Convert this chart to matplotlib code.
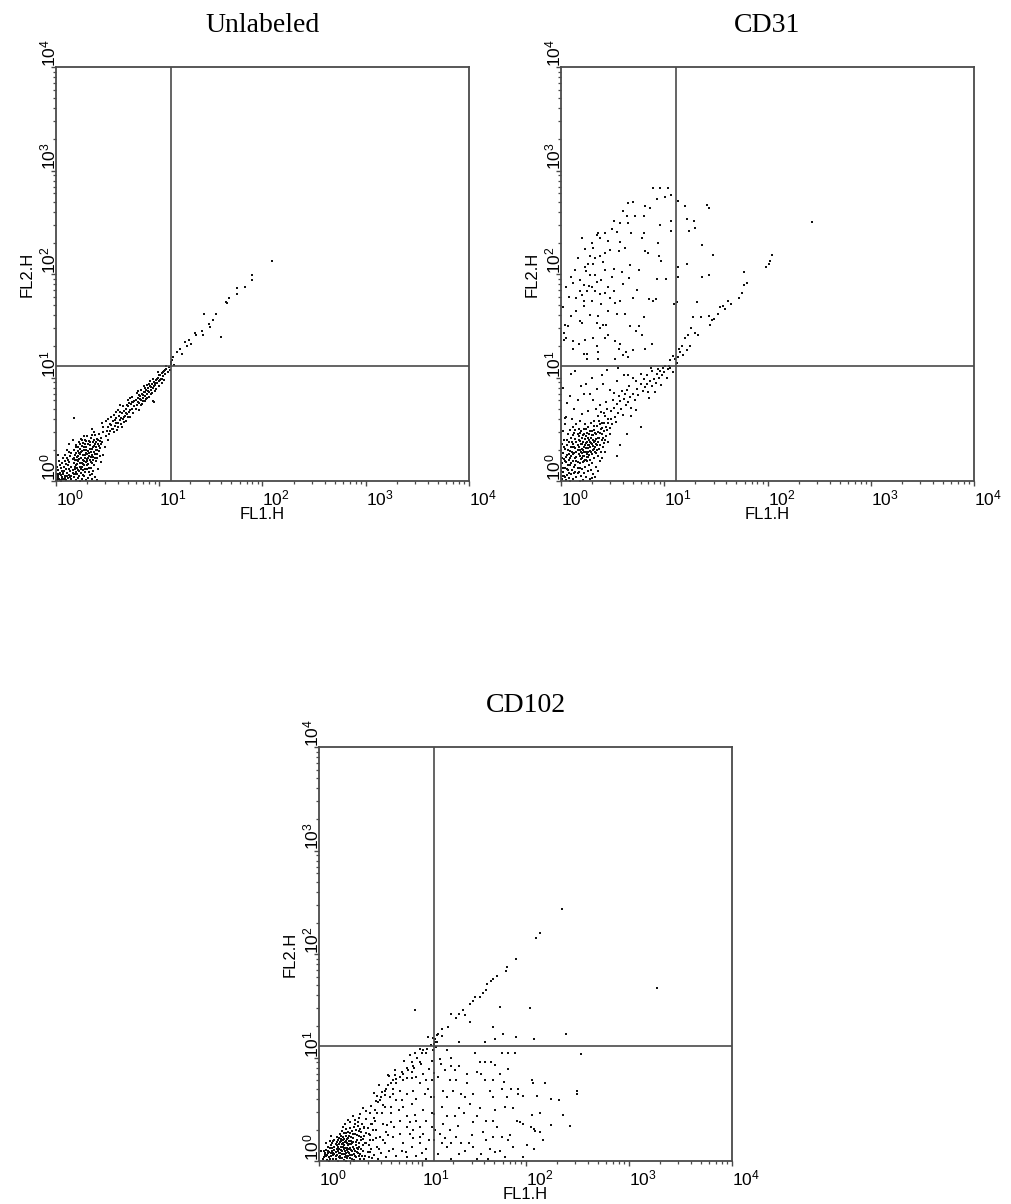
import numpy as np
import matplotlib
matplotlib.use("Agg")
import matplotlib.pyplot as plt
from matplotlib.ticker import LogLocator, NullFormatter

plt.rcParams['font.family'] = ['Liberation Sans', 'DejaVu Sans']
plt.rcParams['mathtext.fontset'] = 'custom'
plt.rcParams['mathtext.rm'] = 'Liberation Sans'
plt.rcParams['mathtext.it'] = 'Liberation Sans'

# all events are given in decades (log10 of the channel value)
gate_x = 1.11
gate_y = 1.11

titles = ["Unlabeled", "CD31", "CD102"]
tick_labels = [r"$\mathregular{10^{0}}$", r"$\mathregular{10^{1}}$", r"$\mathregular{10^{2}}$",
               r"$\mathregular{10^{3}}$", r"$\mathregular{10^{4}}$"]

unlabeled_pts = [
    (0.01,0.01),(0.03,0.02),(0.05,0.00),(0.02,0.05),(0.06,0.04),(0.08,0.02),(0.10,0.01),(0.12,0.03),(0.04,0.08),(0.07,0.07),
    (0.09,0.05),(0.11,0.08),(0.13,0.06),(0.15,0.02),(0.17,0.04),(0.19,0.01),(0.21,0.03),(0.23,0.00),(0.25,0.02),(0.27,0.05),
    (0.29,0.01),(0.31,0.03),(0.33,0.06),(0.35,0.02),(0.38,0.04),(0.40,0.01),(0.02,0.11),(0.05,0.13),(0.08,0.10),(0.10,0.12),
    (0.12,0.15),(0.14,0.10),(0.16,0.08),(0.18,0.12),(0.20,0.07),(0.22,0.10),(0.24,0.08),(0.26,0.11),(0.28,0.09),(0.30,0.12),
    (0.32,0.09),(0.34,0.13),(0.36,0.10),(0.06,0.17),(0.09,0.19),(0.11,0.22),(0.13,0.18),(0.15,0.14),(0.17,0.17),(0.19,0.15),
    (0.21,0.19),(0.23,0.14),(0.25,0.17),(0.27,0.15),(0.29,0.18),(0.31,0.16),(0.33,0.20),(0.35,0.17),(0.37,0.15),(0.39,0.19),
    (0.14,0.24),(0.16,0.21),(0.18,0.25),(0.20,0.23),(0.22,0.27),(0.24,0.22),(0.26,0.25),(0.28,0.22),(0.30,0.26),(0.32,0.24),
    (0.34,0.28),(0.36,0.23),(0.38,0.26),(0.40,0.22),(0.42,0.29),(0.17,0.30),(0.19,0.33),(0.21,0.29),(0.23,0.31),(0.25,0.34),
    (0.27,0.30),(0.29,0.33),(0.31,0.29),(0.33,0.35),(0.35,0.31),(0.37,0.34),(0.39,0.30),(0.41,0.36),(0.43,0.32),(0.45,0.38),
    (0.22,0.38),(0.24,0.41),(0.26,0.37),(0.28,0.40),(0.30,0.43),(0.32,0.39),(0.34,0.42),(0.36,0.38),(0.38,0.44),(0.40,0.41),
    (0.42,0.45),(0.44,0.42),(0.46,0.47),(0.48,0.43),(0.13,0.28),(0.11,0.30),(0.09,0.25),(0.07,0.22),(0.04,0.15),(0.03,0.19),
    (0.20,0.16),(0.24,0.28),(0.28,0.36),(0.18,0.20),(0.26,0.20),(0.30,0.21),(0.15,0.05),(0.18,0.07),(0.21,0.11),(0.26,0.06),
    (0.35,0.07),(0.41,0.12),(0.44,0.18),(0.46,0.25),(0.47,0.33),(0.43,0.24),(0.01,0.14),(0.01,0.07),(0.02,0.25),(0.13,0.36),
    (0.16,0.40),(0.35,0.50),(0.50,0.40),(0.52,0.48),(0.37,0.47),
    (0.02,0.03),(0.04,0.01),(0.06,0.02),(0.03,0.07),(0.05,0.06),(0.07,0.09),(0.09,0.03),(0.11,0.05),(0.13,0.12),(0.14,0.04),
    (0.16,0.11),(0.17,0.07),(0.19,0.09),(0.20,0.13),(0.22,0.05),(0.23,0.17),(0.24,0.12),(0.25,0.14),(0.27,0.19),(0.28,0.12),
    (0.29,0.27),(0.30,0.15),(0.31,0.22),(0.32,0.27),(0.33,0.31),(0.34,0.18),(0.35,0.25),(0.36,0.33),(0.37,0.28),(0.38,0.36),
    (0.39,0.33),(0.40,0.26),(0.41,0.40),(0.42,0.34),(0.43,0.39),(0.44,0.36),(0.15,0.27),(0.17,0.22),(0.19,0.27),(0.21,0.24),
    (0.23,0.26),(0.25,0.29),(0.27,0.33),(0.29,0.30),(0.31,0.36),(0.33,0.38),(0.35,0.44),(0.12,0.20),(0.10,0.16),(0.08,0.14),
    (0.06,0.10),(0.18,0.14),(0.20,0.20),(0.22,0.21),(0.26,0.16),(0.28,0.25),(0.30,0.19),(0.32,0.13),(0.34,0.23),(0.36,0.20),
    (0.38,0.22),(0.40,0.30),(0.19,0.35),(0.21,0.33),(0.23,0.36),(0.25,0.40),(0.27,0.43),(0.29,0.39),(0.37,0.40),(0.39,0.38),
    (0.50,0.52),(0.52,0.55),(0.54,0.50),(0.55,0.58),(0.57,0.53),(0.58,0.61),(0.60,0.56),(0.61,0.63),(0.62,0.59),(0.64,0.66),
    (0.65,0.60),(0.66,0.68),(0.67,0.63),(0.68,0.70),(0.69,0.65),(0.70,0.72),(0.71,0.67),(0.72,0.69),(0.73,0.74),(0.74,0.70),
    (0.75,0.76),(0.76,0.72),(0.77,0.78),(0.78,0.73),(0.79,0.80),(0.80,0.75),(0.81,0.82),(0.82,0.78),(0.83,0.84),(0.84,0.80),
    (0.85,0.86),(0.86,0.82),(0.87,0.88),(0.88,0.84),(0.89,0.90),(0.90,0.86),(0.91,0.92),(0.92,0.88),(0.93,0.94),(0.94,0.90),
    (0.95,0.96),(0.96,0.93),(0.97,0.98),(0.98,0.95),(0.99,1.00),(1.00,0.97),(1.01,1.02),(1.02,0.99),(1.03,1.04),(1.04,1.01),
    (1.05,1.06),(1.06,1.03),(1.07,1.08),(1.08,1.05),(1.09,1.10),(1.10,1.07),
    (0.53,0.62),(0.56,0.64),(0.59,0.49),(0.63,0.55),(0.66,0.57),(0.70,0.78),(0.72,0.62),(0.75,0.66),(0.78,0.85),(0.80,0.69),
    (0.83,0.74),(0.86,0.77),(0.88,0.93),(0.90,0.81),(0.93,0.85),(0.95,0.76),(0.97,0.89),(1.00,0.92),(1.03,0.95),(0.62,0.73),
    (0.58,0.67),(0.48,0.58),(0.51,0.45),(0.56,0.47),(0.64,0.52),(0.68,0.58),(0.74,0.81),(0.82,0.88),(0.85,0.92),(0.87,0.79),
    (0.91,0.97),(0.94,0.99),(0.99,1.05),(1.05,0.98),(1.07,1.11),(0.60,0.69),(0.57,0.59),(0.63,0.61),(0.69,0.73),(0.76,0.77),
    (0.79,0.76),(0.81,0.79),(0.84,0.83),(0.86,0.86),(0.89,0.87),(0.92,0.91),(0.96,0.95),(0.98,0.99),(1.01,0.98),(1.04,1.05),
    (0.50,0.60),(0.55,0.50),(0.58,0.56),(0.62,0.67),(0.66,0.62),(0.68,0.66),(0.71,0.75),(0.74,0.76),(0.77,0.70),(0.80,0.83),
    (0.84,0.77),(0.86,0.90),(0.90,0.94),(0.92,0.84),(0.95,0.92),(1.00,1.02),(1.03,0.99),(1.06,1.07),(0.46,0.52),(0.49,0.48),
    (0.53,0.54),(0.65,0.72),(0.70,0.62),(0.79,0.87),(0.82,0.73),(0.88,0.80),(0.96,0.87),(0.45,0.56),(0.60,0.52),(0.72,0.80),
    (0.17,0.61),(0.94,0.77),
    (1.11,1.13),(1.12,1.17),(1.13,1.20),(1.11,1.15),(1.14,1.12),(1.17,1.25),(1.20,1.28),(1.22,1.23),(1.25,1.34),(1.27,1.30),
    (1.31,1.32),(1.29,1.36),(1.35,1.43),(1.36,1.41),(1.41,1.45),(1.42,1.41),(1.43,1.61),(1.48,1.52),(1.49,1.49),(1.52,1.56),
    (1.55,1.61),(1.60,1.39),(1.65,1.73),(1.66,1.72),(1.68,1.77),(1.75,1.86),(1.75,1.81),(1.83,1.87),(1.90,1.99),(1.90,1.94),
    (2.09,2.13),
]

cd31_pts = [
    # dense bottom-left population
    (0.01,0.02),(0.03,0.05),(0.05,0.01),(0.02,0.09),(0.06,0.06),(0.08,0.03),(0.10,0.07),(0.12,0.02),(0.04,0.13),(0.07,0.11),
    (0.09,0.15),(0.11,0.11),(0.13,0.08),(0.15,0.04),(0.17,0.09),(0.19,0.05),(0.21,0.01),(0.01,0.17),(0.03,0.21),(0.05,0.18),
    (0.08,0.20),(0.10,0.24),(0.12,0.19),(0.14,0.15),(0.16,0.13),(0.18,0.17),(0.20,0.12),(0.22,0.08),(0.24,0.04),(0.26,0.10),
    (0.02,0.27),(0.04,0.31),(0.06,0.25),(0.09,0.29),(0.11,0.33),(0.13,0.27),(0.15,0.23),(0.17,0.26),(0.19,0.21),(0.21,0.18),
    (0.23,0.14),(0.25,0.19),(0.27,0.15),(0.29,0.11),(0.31,0.07),(0.01,0.36),(0.03,0.40),(0.06,0.35),(0.08,0.38),(0.10,0.42),
    (0.12,0.36),(0.14,0.32),(0.16,0.35),(0.18,0.30),(0.20,0.27),(0.22,0.24),(0.24,0.28),(0.26,0.23),(0.28,0.20),(0.30,0.17),
    (0.32,0.22),(0.34,0.14),(0.14,0.41),(0.16,0.45),(0.18,0.39),(0.20,0.36),(0.22,0.33),(0.24,0.37),(0.26,0.32),(0.28,0.29),
    (0.30,0.26),(0.32,0.31),(0.34,0.27),(0.36,0.24),(0.38,0.19),(0.19,0.48),(0.21,0.44),(0.23,0.41),(0.25,0.46),(0.27,0.40),
    (0.29,0.37),(0.31,0.34),(0.33,0.39),(0.35,0.35),(0.37,0.31),(0.39,0.28),(0.41,0.33),(0.26,0.52),(0.28,0.48),(0.30,0.44),
    (0.32,0.49),(0.34,0.45),(0.36,0.42),(0.38,0.46),(0.40,0.40),(0.42,0.37),(0.44,0.43),(0.07,0.45),(0.09,0.49),(0.12,0.52),
    (0.04,0.55),(0.02,0.48),(0.15,0.55),(0.18,0.58),(0.05,0.62),(0.11,0.60),(0.13,0.46),(0.17,0.50),(0.23,0.55),(0.29,0.56),
    (0.35,0.53),(0.37,0.58),(0.40,0.51),(0.42,0.56),(0.45,0.49),(0.47,0.45),(0.46,0.38),(0.43,0.28),(0.40,0.22),(0.36,0.10),
    (0.33,0.04),(0.28,0.02),(0.18,0.00),(0.09,0.00),(0.00,0.10),(0.00,0.30),(0.15,0.19),(0.21,0.30),(0.27,0.35),(0.17,0.40),
    (0.11,0.28),(0.07,0.15),(0.24,0.20),(0.20,0.22),(0.33,0.33),(0.26,0.42),(0.16,0.30),(0.22,0.50),(0.31,0.40),(0.25,0.26),
    (0.54,0.24),(0.57,0.35),(0.64,0.45),(0.77,0.52),(0.30,0.03),
    (0.02,0.13),(0.04,0.04),(0.05,0.23),(0.06,0.12),(0.07,0.30),(0.08,0.08),(0.09,0.22),(0.10,0.17),(0.11,0.38),(0.12,0.26),
    (0.13,0.14),(0.13,0.33),(0.14,0.22),(0.15,0.38),(0.15,0.28),(0.16,0.18),(0.17,0.33),(0.17,0.43),(0.18,0.24),(0.19,0.36),
    (0.19,0.28),(0.20,0.42),(0.20,0.31),(0.21,0.24),(0.21,0.38),(0.22,0.28),(0.22,0.45),(0.23,0.35),(0.23,0.20),(0.24,0.32),
    (0.24,0.43),(0.25,0.38),(0.25,0.23),(0.26,0.35),(0.26,0.28),(0.27,0.45),(0.27,0.25),(0.28,0.38),(0.28,0.33),(0.29,0.42),
    (0.29,0.28),(0.30,0.36),(0.30,0.48),(0.31,0.30),(0.31,0.44),(0.32,0.38),(0.33,0.28),(0.33,0.46),(0.34,0.36),(0.34,0.41),
    (0.35,0.30),(0.36,0.47),(0.36,0.38),(0.37,0.42),(0.38,0.35),(0.39,0.50),(0.40,0.45),(0.41,0.42),(0.42,0.48),(0.43,0.40),
    (0.10,0.33),(0.08,0.26),(0.06,0.40),(0.03,0.33),(0.01,0.22),(0.02,0.05),(0.04,0.19),(0.12,0.44),(0.14,0.49),(0.18,0.46),
    (0.24,0.50),(0.32,0.53),(0.44,0.52),(0.46,0.56),(0.48,0.60),(0.38,0.55),(0.14,0.09),(0.18,0.13),(0.22,0.19),(0.16,0.08),
    # band up to the gate
    (0.43,0.63),(0.48,0.68),(0.54,0.74),(0.61,0.79),(0.67,0.81),(0.74,0.89),(0.77,0.94),(0.83,0.94),(0.86,0.97),(0.93,1.03),
    (0.96,1.06),(1.01,1.11),(1.04,1.08),(0.77,1.03),(0.70,1.00),(0.62,0.84),(0.57,0.77),(0.51,0.71),(0.40,0.56),(0.36,0.63),
    (0.32,0.58),(0.38,0.73),(0.51,0.85),(0.61,1.02),(0.54,0.97),(0.46,0.60),(0.49,0.55),(0.52,0.62),(0.55,0.66),(0.58,0.70),
    (0.60,0.64),(0.63,0.73),(0.65,0.76),(0.68,0.71),(0.70,0.84),(0.72,0.78),(0.75,0.83),(0.79,0.87),(0.81,0.91),(0.84,0.86),
    (0.88,0.92),(0.90,0.99),(0.92,0.95),(0.95,1.00),(0.98,1.02),(1.00,1.05),(1.03,1.00),(1.06,1.09),(1.08,1.05),(0.88,1.06),
    (0.83,1.02),(0.66,0.92),(0.59,0.87),(0.45,0.70),(0.42,0.66),(0.47,0.51),(0.53,0.57),(0.68,0.63),(0.73,0.69),(0.85,0.80),
    (0.91,0.86),(0.97,0.93),(0.50,0.78),(0.56,0.82),(0.64,0.88),(0.73,0.97),(0.80,0.99),(0.87,1.09),(0.94,1.08),(1.05,1.11),
    (0.99,1.09),(0.44,0.76),(0.39,0.67),(0.34,0.70),(0.47,0.88),
    (0.09,0.82),(0.14,1.06),(0.04,0.61),(0.22,0.84),(0.28,0.84),(0.40,1.02),(0.65,1.02),(0.41,0.94),(0.35,0.89),(0.24,0.94),
    (0.19,0.92),(0.06,0.75),(0.13,0.70),(0.26,0.68),(0.31,0.78),(0.20,0.65),(0.02,0.90),(0.45,1.07),(0.55,1.09),(0.30,1.00),
    (0.16,0.78),(0.10,1.03),
    # upper-left CD31 positive cloud
    (0.89,2.83),(0.96,2.83),(1.04,2.83),(1.07,2.76),(1.01,2.74),(0.93,2.72),(0.81,2.66),(0.86,2.64),(0.65,2.69),(0.70,2.70),
    (0.60,2.61),(0.64,2.56),(0.72,2.56),(0.80,2.56),(0.51,2.51),(0.57,2.49),(0.65,2.49),(0.96,2.47),(1.07,2.51),(1.07,2.42),
    (0.80,2.40),(0.78,2.35),(0.68,2.40),(0.54,2.41),(0.49,2.43),(0.43,2.40),(0.36,2.40),(0.35,2.38),(0.38,2.35),(0.46,2.32),
    (0.57,2.31),(0.20,2.35),(0.30,2.30),(0.31,2.25),(0.23,2.24),(0.28,2.17),(0.33,2.15),(0.31,2.10),(0.38,2.17),(0.43,2.20),
    (0.47,2.23),(0.56,2.22),(0.62,2.25),(0.67,2.09),(0.76,2.04),(0.81,2.22),(0.84,2.20),(0.94,2.30),(0.95,2.17),(0.97,2.13),
    (0.93,1.95),(1.02,1.95),(1.13,2.07),(1.13,1.97),(0.14,2.04),(0.10,1.97),(0.05,1.87),(0.02,1.68),(0.04,1.51),(0.07,1.50),
    (0.10,1.59),(0.15,1.64),(0.18,1.55),(0.20,1.53),(0.22,1.69),(0.12,1.35),(0.17,1.32),(0.23,1.36),(0.25,1.23),(0.35,1.30),
    (0.36,1.25),(0.43,1.38),(0.44,1.51),(0.52,1.35),(0.56,1.28),(0.60,1.22),(0.63,1.25),
    (0.12,1.91),(0.18,1.94),(0.22,1.89),(0.25,1.84),(0.30,1.87),(0.33,1.84),(0.38,1.81),(0.43,1.82),(0.47,1.77),(0.51,1.84),
    (0.39,1.71),(0.46,1.64),(0.54,1.61),(0.62,1.61),(0.70,1.77),(0.57,1.74),(0.52,1.72),(0.46,1.87),(0.39,1.94),(0.43,2.04),
    (0.51,2.05),(0.59,2.02),(0.33,1.99),(0.28,1.99),(0.26,2.10),(0.23,2.07),(0.24,2.03),(0.15,1.77),(0.18,1.84),(0.22,1.74),
    (0.30,1.74),(0.36,1.59),(0.35,1.53),(0.41,1.51),(0.38,1.48),(0.31,1.38),(0.46,1.41),(0.67,1.50),(0.73,1.45),(0.78,1.41),
    (0.76,1.50),(0.80,1.58),(0.85,1.76),(0.89,1.74),(0.92,1.76),(0.88,1.32),(0.81,1.28),(0.70,1.27),(0.65,1.20),(0.57,1.32),
    (0.52,1.18),(0.36,1.18),(0.25,1.18),(0.22,1.23),(0.12,1.28),(0.05,1.38),(0.03,1.43),(0.03,1.36),(0.27,1.88),(0.35,1.92),
    (0.20,1.80),(0.28,1.60),(0.60,1.90),(0.66,1.96),(0.74,1.85),(0.49,1.97),(0.41,2.12),(0.16,2.15),(0.08,1.78),(1.09,1.71),
    (1.12,1.73),
    # upper-right stragglers
    (1.22,2.53),(1.20,2.66),(1.13,2.71),(1.29,2.51),(1.30,2.44),(1.24,2.42),(1.41,2.67),(1.43,2.64),(1.37,2.28),(1.47,2.18),
    (1.22,2.10),(1.37,1.97),(1.43,1.99),(1.32,1.73),(2.43,2.50),
    # band beyond the gate
    (1.14,1.28),(1.17,1.30),(1.15,1.25),(1.22,1.27),(1.25,1.30),(1.20,1.38),(1.23,1.41),(1.26,1.48),(1.30,1.43),(1.33,1.41),
    (1.28,1.58),(1.36,1.58),(1.43,1.59),(1.44,1.51),(1.46,1.56),(1.48,1.57),(1.52,1.61),(1.54,1.68),(1.57,1.69),(1.59,1.66),
    (1.62,1.74),(1.65,1.71),(1.72,1.77),(1.75,1.82),(1.77,1.89),(1.80,1.91),(1.77,2.02),(1.99,2.07),(2.01,2.10),(2.02,2.13),
    (2.04,2.18),(1.10,1.18),(1.08,1.21),(1.06,1.17),(1.12,1.14),(1.13,1.20),(1.18,1.22),
]

cd102_pts = [
    # dense bottom-left population
    (0.04,0.02),(0.06,0.06),(0.08,0.01),(0.10,0.04),(0.12,0.08),(0.14,0.02),(0.16,0.05),(0.18,0.10),(0.20,0.03),(0.22,0.07),
    (0.24,0.01),(0.26,0.05),(0.28,0.09),(0.30,0.03),(0.32,0.06),(0.34,0.01),(0.36,0.04),(0.38,0.08),(0.40,0.02),(0.42,0.05),
    (0.07,0.11),(0.09,0.08),(0.11,0.13),(0.13,0.10),(0.15,0.14),(0.17,0.12),(0.19,0.16),(0.21,0.11),(0.23,0.14),(0.25,0.10),
    (0.27,0.13),(0.29,0.16),(0.31,0.11),(0.33,0.14),(0.35,0.10),(0.37,0.13),(0.39,0.17),(0.41,0.12),(0.13,0.17),(0.15,0.20),
    (0.17,0.18),(0.19,0.22),(0.21,0.19),(0.23,0.23),(0.25,0.18),(0.27,0.21),(0.29,0.24),(0.31,0.19),(0.33,0.22),(0.35,0.26),
    (0.37,0.20),(0.39,0.24),(0.41,0.28),(0.43,0.21),(0.20,0.26),(0.22,0.29),(0.24,0.27),(0.26,0.31),(0.28,0.28),(0.30,0.32),
    (0.32,0.29),(0.34,0.33),(0.36,0.30),(0.38,0.34),(0.40,0.31),(0.42,0.36),(0.44,0.32),(0.46,0.27),(0.45,0.17),(0.47,0.09),
    (0.44,0.02),(0.48,0.04),(0.10,0.00),(0.18,0.00),(0.26,0.00),(0.34,0.00),(0.05,0.10),(0.09,0.14),(0.11,0.19),(0.02,0.10),
    (0.07,0.05),(0.20,0.08),(0.24,0.12),(0.28,0.05),(0.32,0.17),(0.36,0.15),(0.16,0.09),(0.14,0.06),(0.22,0.16),(0.26,0.24),
    (0.30,0.27),(0.34,0.07),(0.38,0.12),(0.19,0.04),(0.23,0.20),(0.27,0.17),(0.31,0.23),(0.29,0.12),(0.25,0.07),(0.21,0.24),
    (0.17,0.23),(0.23,0.33),(0.30,0.38),(0.35,0.36),(0.38,0.38),(0.43,0.51),(0.39,0.42),(0.35,0.40),(0.40,0.45),(0.33,0.43),
    (0.28,0.40),(0.25,0.36),(0.12,0.24),(0.07,0.17),(0.50,0.12),(0.52,0.20),(0.49,0.25),(0.53,0.06),(0.55,0.30),
    (0.05,0.04),(0.08,0.06),(0.09,0.10),(0.11,0.02),(0.12,0.05),(0.13,0.13),(0.14,0.08),(0.15,0.11),(0.16,0.02),(0.16,0.16),
    (0.17,0.06),(0.18,0.14),(0.18,0.20),(0.19,0.08),(0.19,0.12),(0.20,0.18),(0.20,0.05),(0.21,0.14),(0.21,0.21),(0.22,0.03),
    (0.22,0.10),(0.23,0.17),(0.23,0.07),(0.24,0.15),(0.24,0.21),(0.25,0.04),(0.25,0.13),(0.26,0.08),(0.26,0.19),(0.27,0.11),
    (0.27,0.03),(0.28,0.15),(0.28,0.22),(0.29,0.08),(0.29,0.19),(0.30,0.13),(0.30,0.06),(0.31,0.16),(0.32,0.10),(0.32,0.02),
    (0.33,0.18),(0.34,0.12),(0.35,0.05),(0.36,0.18),(0.37,0.09),(0.37,0.25),(0.39,0.14),(0.40,0.07),(0.41,0.20),(0.43,0.15),
    (0.12,0.15),(0.14,0.19),(0.10,0.09),(0.06,0.08),(0.15,0.07),(0.17,0.15),(0.26,0.27),(0.33,0.26),(0.39,0.29),(0.44,0.24),
    (0.47,0.32),(0.50,0.36),(0.53,0.42),(0.56,0.46),(0.48,0.15),(0.45,0.05),(0.51,0.03),(0.58,0.12),(0.62,0.20),(0.66,0.35),
    # diagonal edge and band past the gate
    (0.46,0.48),(0.50,0.53),(0.55,0.58),(0.60,0.62),(0.65,0.70),(0.70,0.75),(0.75,0.79),(0.80,0.86),(0.85,0.90),(0.90,0.96),
    (0.95,1.00),(1.00,1.04),(1.05,1.08),(1.08,1.12),(1.10,1.07),(1.12,1.15),(1.13,1.10),(1.14,1.22),(1.10,1.19),(0.82,0.97),
    (0.88,1.02),(0.98,1.08),(0.74,0.88),(0.68,0.82),(0.58,0.73),(0.53,0.66),(0.62,0.54),(0.72,0.70),(0.92,0.90),
    (2.35,2.43),(2.14,2.20),(2.10,2.15),(1.91,1.95),(1.82,1.87),(1.81,1.84),(1.72,1.79),(1.69,1.76),(1.67,1.74),(1.63,1.71),
    (1.62,1.65),(1.59,1.62),(1.56,1.58),(1.51,1.58),(1.49,1.55),(1.46,1.52),(1.39,1.46),(1.36,1.42),(1.41,1.41),(1.46,1.34),
    (1.33,1.38),(1.28,1.42),(1.25,1.29),(1.19,1.28),(1.19,1.21),(1.15,1.23),(1.12,1.18),(1.06,1.20),(1.11,1.13),(1.14,1.15),
    (0.93,1.46),(3.27,1.67),(1.75,1.49),(2.04,1.48),(1.69,1.29),(1.70,1.18),(1.78,1.23),(1.91,1.20),(2.08,1.18),(2.39,1.23),
    (1.36,1.15),(1.61,1.15),(2.54,1.03),
    # spread below the horizontal gate, right of the vertical gate
    (1.17,0.99),(1.18,0.94),(1.24,1.07),(1.28,1.00),(1.28,0.92),(1.32,0.88),(1.33,0.78),(1.27,0.78),(1.30,0.68),(1.24,0.62),
    (1.19,0.52),(1.24,0.43),(1.20,0.36),(1.17,0.26),(1.19,0.17),(1.15,0.07),(1.28,0.17),(1.33,0.23),(1.38,0.65),(1.43,0.84),
    (1.51,1.04),(1.56,0.96),(1.57,0.84),(1.61,0.96),(1.67,0.96),(1.70,0.93),(1.77,1.04),(1.83,1.04),(1.83,0.89),(1.90,1.04),
    (1.61,0.78),(1.66,0.68),(1.69,0.78),(1.79,0.76),(1.77,0.70),(1.86,0.70),(1.93,0.70),(1.93,0.65),(2.06,0.78),(2.07,0.75),
    (2.19,0.75),(2.11,0.63),(2.25,0.60),(2.32,0.59),(2.50,0.68),(2.50,0.65),(2.36,0.44),(2.43,0.34),(2.25,0.35),(2.14,0.46),
    (2.06,0.44),(2.14,0.28),(2.08,0.31),(2.09,0.29),(2.17,0.20),(2.08,0.12),(1.95,0.38),(1.98,0.36),(1.88,0.51),(1.80,0.52),
    (1.70,0.49),(1.72,0.33),(1.69,0.23),(1.62,0.20),(1.66,0.12),(1.85,0.25),(1.83,0.20),(1.88,0.14),(2.01,0.15),(1.98,0.04),
    (1.75,0.10),(1.53,0.43),(1.48,0.25),(1.45,0.17),(1.49,0.14),(1.41,0.10),(1.36,0.07),(1.38,0.17),(1.57,0.07),(1.28,0.02),
    (1.24,0.14),(1.35,0.34),(1.40,0.46),(1.46,0.55),(1.56,0.51),(1.49,0.65),(1.43,0.75),(1.36,0.51),(1.32,0.43),(1.27,0.30),
    (1.22,0.22),(1.49,0.38),(1.59,0.28),(1.62,0.39),(1.69,0.39),(1.77,0.23),(1.70,0.09),(1.53,0.02),(1.64,0.02),(1.80,0.04),
    (1.92,0.39),(2.05,0.33),(1.15,0.81),(1.20,0.68),(1.22,0.88),(1.36,0.92),(1.41,0.62),(1.75,0.84),(1.53,0.86),(1.69,0.62),
    (1.82,0.62),(1.98,0.63),(1.11,0.20),(1.11,0.45),(1.11,0.62),(1.11,0.85),(1.12,0.30),
    # wedge left of the vertical gate
    (0.93,1.04),(1.01,1.07),(1.04,1.04),(0.98,0.96),(0.95,1.00),(0.99,0.94),(0.91,0.92),(0.86,0.88),(0.81,0.84),(0.78,0.81),
    (0.74,0.83),(0.85,0.80),(0.90,0.80),(0.94,0.81),(1.01,0.84),(1.04,0.78),(1.07,0.89),(1.06,0.70),(1.03,0.65),(0.94,0.60),
    (0.90,0.55),(0.85,0.65),(0.78,0.68),(0.72,0.65),(0.67,0.73),(0.64,0.68),(0.69,0.62),(0.75,0.59),(0.81,0.52),(0.77,0.49),
    (0.70,0.46),(0.64,0.52),(0.59,0.59),(0.56,0.63),(0.61,0.67),(0.54,0.49),(0.49,0.46),(0.46,0.41),(0.54,0.39),(0.62,0.36),
    (0.70,0.38),(0.78,0.39),(0.85,0.43),(0.93,0.44),(1.01,0.49),(1.04,0.39),(0.98,0.33),(0.91,0.30),(0.85,0.33),(0.78,0.26),
    (0.72,0.23),(0.65,0.28),(0.59,0.23),(0.52,0.30),(0.49,0.20),(0.56,0.14),(0.64,0.17),(0.72,0.12),(0.81,0.17),(0.90,0.14),
    (0.98,0.17),(1.04,0.12),(1.07,0.20),(0.94,0.05),(0.85,0.04),(0.75,0.05),(0.65,0.04),(0.57,0.02),(1.04,0.02),(0.80,0.10),
    (0.91,0.22),(1.01,0.26),(1.09,0.33),(1.09,0.46),(1.08,0.62),(1.09,0.78),(1.09,0.97),(0.94,0.39),(0.88,0.38),(0.73,0.33),
    (0.67,0.25),(0.55,0.22),(0.46,0.17),(0.43,0.10),(0.49,0.09),(0.39,0.05),(0.88,0.26),(0.98,0.23),(0.70,0.52),(0.80,0.59),
    (0.91,0.68),(0.98,0.75),(0.75,0.75),(0.81,0.78),(0.90,0.86),(0.67,0.83),(0.72,0.78),(0.64,0.64),(0.57,0.57),(0.61,0.46),
    (0.51,0.36),(0.44,0.33),(0.48,0.26),(0.41,0.23),(0.60,0.08),(0.68,0.10),(0.84,0.09),(1.00,0.08),
]


def draw_panel(ax, pts, title):
    pts = np.array(pts)
    ax.scatter(10 ** pts[:, 0], 10 ** pts[:, 1], s=3.2, marker="s", c="#111111",
               linewidths=0, zorder=2, clip_on=True)
    ax.set_xscale("log")
    ax.set_yscale("log")
    ax.set_xlim(1, 1e4)
    ax.set_ylim(1, 1e4)

    line_col = "#4a4a4a"
    ax.axvline(10 ** gate_x, color=line_col, lw=1.2, zorder=3)
    ax.axhline(10 ** gate_y, color=line_col, lw=1.2, zorder=3)
    for sp in ax.spines.values():
        sp.set_color(line_col)
        sp.set_linewidth(1.3)

    decades = [1, 10, 100, 1000, 10000]
    ax.set_xticks(decades, labels=tick_labels)
    ax.set_yticks(decades, labels=tick_labels)
    ax.xaxis.set_minor_locator(LogLocator(base=10, subs=np.arange(2, 10)))
    ax.yaxis.set_minor_locator(LogLocator(base=10, subs=np.arange(2, 10)))
    ax.xaxis.set_minor_formatter(NullFormatter())
    ax.yaxis.set_minor_formatter(NullFormatter())
    ax.tick_params(which="major", length=3.5, width=1.0, color=line_col, labelsize=12.5, pad=2)
    ax.tick_params(which="minor", length=2.0, width=0.9, color=line_col)
    for lab in ax.get_xticklabels():
        lab.set_ha("left")
    for lab in ax.get_yticklabels():
        lab.set_rotation(90)
        lab.set_va("bottom")
        lab.set_ha("center")

    ax.set_xlabel("FL1.H", fontsize=12, labelpad=-1)
    ax.set_ylabel("FL2.H", fontsize=12, labelpad=3)
    ax.set_title(title, fontsize=20, family="Liberation Serif", pad=25)


fig = plt.figure(figsize=(10.12, 12.04), dpi=100)
W, H = 1012.0, 1204.0
size_w, size_h = 413 / W, 414 / H
ax1 = fig.add_axes([56 / W, (H - 481) / H, size_w, size_h])
ax2 = fig.add_axes([561 / W, (H - 481) / H, size_w, size_h])
ax3 = fig.add_axes([319 / W, (H - 1161) / H, size_w, size_h])

draw_panel(ax1, unlabeled_pts, titles[0])
draw_panel(ax2, cd31_pts, titles[1])
draw_panel(ax3, cd102_pts, titles[2])

fig.savefig("out.png", dpi=100)
